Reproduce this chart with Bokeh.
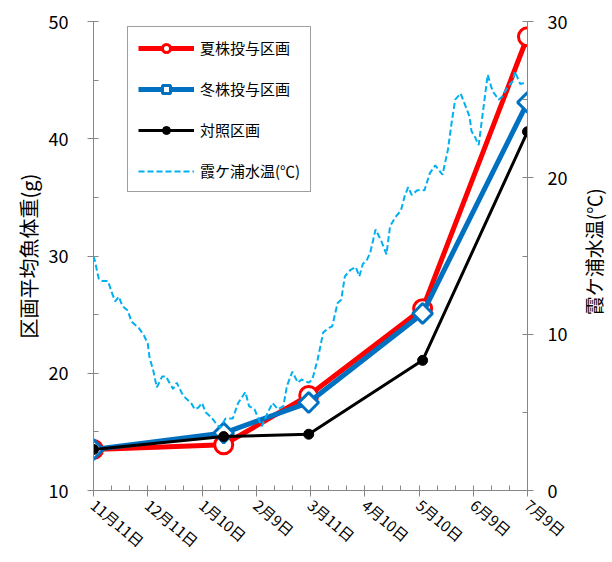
import math
from bokeh.plotting import figure
from bokeh.layouts import row
from bokeh.models import (Range1d, LinearAxis, FixedTicker, Legend, LegendItem,
                          ColumnDataSource, Label)
from bokeh.embed import file_html
from bokeh.resources import INLINE

# ---- data ----
sample_days = [0, 72, 119, 182, 240]          # days since 11月11日
summer_vals = [13.5, 13.9, 18.1, 25.5, 48.7]  # 夏株投与区画
winter_vals = [13.5, 14.9, 17.5, 25.1, 43.1]  # 冬株投与区画
control_vals = [13.5, 14.6, 14.8, 21.1, 40.6] # 対照区画

tick_days = [0, 30, 60, 90, 120, 150, 180, 210, 240]
tick_labels = ["11月11日", "12月11日", "1月10日", "2月9日", "3月11日",
               "4月10日", "5月10日", "6月9日", "7月9日"]

temp_days = [0, 1, 2, 3, 5, 8, 10, 12, 14, 16, 19, 21, 25, 28, 30, 31, 33, 35,
             38, 40, 42, 44, 46, 49, 51, 54, 56, 58, 60, 62, 65, 67, 70, 73, 77,
             80, 84, 86, 89, 93, 96, 99, 102, 105, 107, 110, 113, 115, 117, 119,
             121, 124, 127, 130, 132, 135, 137, 139, 142, 145, 147, 149, 151,
             153, 156, 159, 162, 164, 167, 170, 172, 174, 176, 179, 183, 186,
             189, 193, 196, 198, 200, 203, 206, 208, 209, 211, 213, 215, 218,
             220, 221, 224, 226, 229, 232, 233, 236, 239]
temp_vals = [15.0, 14.6, 14.0, 13.5, 13.4, 13.4, 12.7, 12.1, 12.4, 11.8, 11.5,
             10.8, 10.4, 9.9, 9.4, 8.5, 7.7, 6.6, 7.3, 7.3, 6.9, 6.5, 6.9, 6.2,
             5.9, 5.6, 5.2, 5.3, 5.6, 5.0, 4.7, 4.4, 4.0, 4.6, 4.6, 5.6, 6.3,
             5.4, 5.2, 4.1, 4.9, 5.6, 5.2, 5.4, 6.7, 7.6, 6.9, 7.1, 7.0, 6.9,
             7.1, 8.4, 10.1, 10.4, 10.5, 12.0, 12.2, 13.7, 14.1, 14.3, 13.7,
             14.5, 14.7, 15.2, 16.7, 16.0, 15.1, 16.9, 17.5, 17.9, 18.8, 19.4,
             18.9, 19.2, 19.2, 20.3, 20.8, 20.2, 21.8, 23.5, 25.0, 25.4, 24.5,
             23.9, 23.0, 22.6, 22.1, 23.9, 26.6, 25.8, 25.5, 25.0, 25.2, 25.8,
             26.2, 26.8, 26.0, 26.1]

FONT = "Noto Sans CJK JP"
AX = "#868686"

p = figure(width=578, height=562, x_range=Range1d(0, 240), y_range=Range1d(10, 50),
           output_backend="svg", toolbar_location=None,
           min_border_left=93, min_border_right=51, min_border_top=21,
           min_border_bottom=71)
p.outline_line_color = None
p.xgrid.visible = False
p.ygrid.visible = False
p.background_fill_color = "white"
p.border_fill_color = "white"

p.extra_y_ranges = {"temp": Range1d(0, 30)}

# x axis
xa = p.xaxis[0]
xa.ticker = FixedTicker(ticks=tick_days,
                        minor_ticks=[d for d in range(0, 241, 10) if d % 30])
xa.major_label_overrides = {d: l for d, l in zip(tick_days, tick_labels)}
xa.major_label_orientation = -40 * math.pi / 180
xa.major_label_text_font = FONT
xa.major_label_text_font_size = "15px"
xa.major_label_text_color = "black"
xa.major_label_standoff = 6

# left axis
ya = p.yaxis[0]
ya.ticker = FixedTicker(ticks=[10, 20, 30, 40, 50], minor_ticks=[15, 25, 35, 45])
ya.axis_label = "区画平均魚体重(g)"
ya.axis_label_standoff = 3
ya.major_label_standoff = 19

# right axis (title drawn in a narrow strip next to the plot)
ra = LinearAxis(y_range_name="temp")
ra.ticker = FixedTicker(ticks=[0, 10, 20, 30], minor_ticks=[5, 15, 25])
ra.major_label_standoff = 14
p.add_layout(ra, "right")

for ax in (xa, ya, ra):
    ax.axis_line_color = AX
    ax.axis_line_width = 1
    ax.major_tick_line_color = AX
    ax.minor_tick_line_color = AX
    ax.major_tick_in = 5
    ax.major_tick_out = 6
    ax.minor_tick_in = 5
    ax.minor_tick_out = 0
    ax.axis_label_text_font = FONT
    ax.axis_label_text_font_size = "20px"
    ax.axis_label_text_font_style = "normal"
    ax.axis_label_text_color = "black"
for ax in (ya, ra):
    ax.major_label_text_font = FONT
    ax.major_label_text_font_size = "18px"
    ax.major_label_text_color = "black"

src = ColumnDataSource(dict(x=sample_days, s=summer_vals, w=winter_vals, c=control_vals))
tsrc = ColumnDataSource(dict(x=temp_days, t=temp_vals))

r1l = p.line("x", "s", source=src, line_color="#FF0000", line_width=5)
r1m = p.scatter("x", "s", source=src, marker="circle", size=18, line_color="#FF0000",
                line_width=3, fill_color="white")
r2l = p.line("x", "w", source=src, line_color="#0070C0", line_width=5)
r2m = p.scatter("x", "w", source=src, marker="square", angle=math.pi / 4, size=14,
                line_color="#0070C0", line_width=3, fill_color="white")
r3l = p.line("x", "c", source=src, line_color="black", line_width=3)
r3m = p.scatter("x", "c", source=src, marker="circle", size=10, line_color="black",
                fill_color="black")
r4 = p.line("x", "t", source=tsrc, y_range_name="temp", line_color="#00B0F0",
            line_width=2, line_dash="6 3")

legend = Legend(items=[
    LegendItem(label="夏株投与区画", renderers=[r1l, r1m]),
    LegendItem(label="冬株投与区画", renderers=[r2l, r2m]),
    LegendItem(label="対照区画", renderers=[r3l, r3m]),
    LegendItem(label="霞ケ浦水温(℃)", renderers=[r4]),
], location=(34, 298))
legend.padding = 10
legend.spacing = 20
legend.glyph_height = 20
legend.glyph_width = 56
legend.label_height = 20
legend.label_standoff = 6
legend.margin = 0
legend.label_text_font = FONT
legend.label_text_font_size = "15px"
legend.label_text_color = "black"
legend.border_line_color = "#404040"
legend.border_line_width = 1
legend.background_fill_color = "white"
legend.background_fill_alpha = 1
p.add_layout(legend)

# narrow strip holding the right-axis title, reading bottom to top
side = figure(width=34, height=562, x_range=Range1d(0, 34), y_range=Range1d(0, 562),
              x_axis_type=None, y_axis_type=None, output_backend="svg",
              toolbar_location=None, min_border=0)
side.outline_line_color = None
side.xgrid.visible = False
side.ygrid.visible = False
side.background_fill_color = "white"
side.border_fill_color = "white"
side.add_layout(Label(x=15, y=562 - 276, text="霞ケ浦水温(℃)", angle=math.pi / 2,
                      text_align="center", text_baseline="middle",
                      text_font=FONT, text_font_size="19px", text_color="black"))

layout = row(p, side, spacing=0)
open("out.html", "w").write(file_html(layout, INLINE))
